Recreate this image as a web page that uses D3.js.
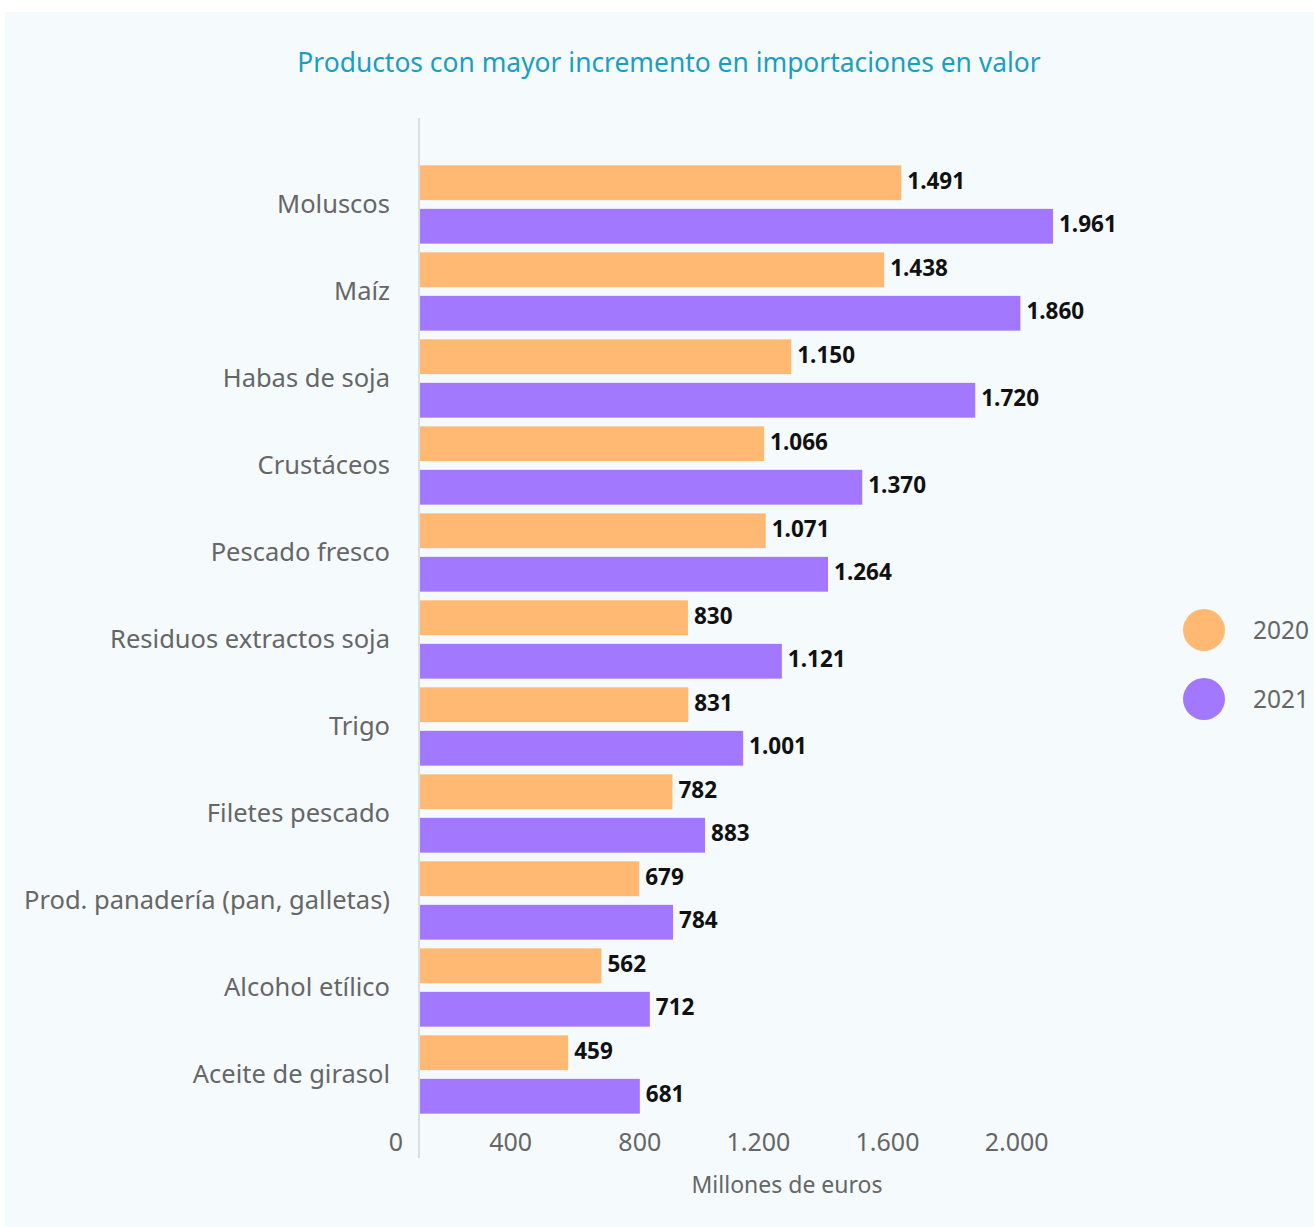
<!DOCTYPE html>
<html>
<head>
<meta charset="utf-8">
<script src="https://cdn.jsdelivr.net/npm/d3@7"></script>
<style>
  body { margin: 0; background: #ffffff; }
  svg { display: block; font-family: "Noto Sans", "Open Sans", sans-serif; }
</style>
</head>
<body>
<div id="chart"></div>
<script>
// données
const categories = ["Moluscos", "Maíz", "Habas de soja", "Crustáceos", "Pescado fresco",
  "Residuos extractos soja", "Trigo", "Filetes pescado", "Prod. panadería (pan, galletas)",
  "Alcohol etílico", "Aceite de girasol"];
const series = ["2020", "2021"];
const values2020 = [1491, 1438, 1150, 1066, 1071, 830, 831, 782, 679, 562, 459];
const values2021 = [1961, 1860, 1720, 1370, 1264, 1121, 1001, 883, 784, 712, 681];
const ticks = [0, 400, 800, 1200, 1600, 2000];

const width = 1314, height = 1227;
const colors = d3.scaleOrdinal().domain(series).range(["#ffb973", "#a178ff"]);

const es = d3.formatLocale({ decimal: ",", thousands: ".", grouping: [3], currency: ["", " €"] });
const fmt = es.format(",d");

const rows = categories.map((c, i) => ({ cat: c, vals: [
  { s: "2020", v: values2020[i] },
  { s: "2021", v: values2021[i] }
]}));

const svg = d3.select("#chart").append("svg")
  .attr("width", width).attr("height", height);

// fond
svg.append("rect").attr("x", 5).attr("y", 12)
  .attr("width", width - 5).attr("height", height - 12)
  .attr("fill", "#f5fafd");

// titre
svg.append("text").attr("x", 669).attr("y", 72)
  .attr("text-anchor", "middle")
  .style("font-size", "26.4px").style("fill", "#1a9ec2")
  .text("Productos con mayor incremento en importaciones en valor");

const x = d3.scaleLinear().domain([0, 2000]).range([420, 1065.6]);
const y = d3.scaleBand().domain(categories).range([161, 1118]);
const ys = d3.scaleBand().domain(series).range([0, y.bandwidth()])
  .paddingInner(0.2).paddingOuter(0.1);

// ligne d'axe
svg.append("line").attr("x1", x(0) - 1).attr("x2", x(0) - 1)
  .attr("y1", 118).attr("y2", 1158)
  .attr("stroke", "#dcdfe1").attr("stroke-width", 2);

// barres
const g = svg.selectAll(".cat").data(rows).enter().append("g")
  .attr("transform", d => "translate(0," + y(d.cat) + ")");

g.selectAll("rect").data(d => d.vals).enter().append("rect")
  .attr("x", x(0))
  .attr("y", d => ys(d.s))
  .attr("width", d => x(d.v) - x(0))
  .attr("height", ys.bandwidth())
  .attr("fill", d => colors(d.s));

g.selectAll(".val").data(d => d.vals).enter().append("text")
  .attr("x", d => x(d.v) + 6)
  .attr("y", d => ys(d.s) + ys.bandwidth() / 2 - 2)
  .attr("dy", "0.35em")
  .style("font-size", "22.5px").style("font-weight", "bold").style("fill", "#111")
  .text(d => fmt(d.v));

// étiquettes des catégories
svg.selectAll(".lab").data(categories).enter().append("text")
  .attr("x", 390)
  .attr("y", d => y(d) + y.bandwidth() / 2)
  .attr("dy", "0.35em")
  .attr("text-anchor", "end")
  .style("font-size", "25.5px").style("fill", "#666")
  .text(d => d);

// graduations
svg.selectAll(".tick").data(ticks).enter().append("text")
  .attr("x", d => x(d) - 17)
  .attr("y", 1142).attr("dy", "0.35em")
  .attr("text-anchor", "end")
  .style("font-size", "25px").style("fill", "#666")
  .text(d => fmt(d));

svg.append("text").attr("x", 787).attr("y", 1185).attr("dy", "0.35em")
  .attr("text-anchor", "middle")
  .style("font-size", "23px").style("fill", "#666")
  .text("Millones de euros");

// légende
const legend = svg.selectAll(".legend").data(series).enter().append("g")
  .attr("transform", (d, i) => "translate(1204," + (630 + i * 69) + ")");
legend.append("circle").attr("r", 21).attr("fill", d => colors(d));
legend.append("text").attr("x", 49).attr("dy", "0.35em")
  .style("font-size", "24.5px").style("fill", "#666")
  .text(d => d);
</script>
</body>
</html>
